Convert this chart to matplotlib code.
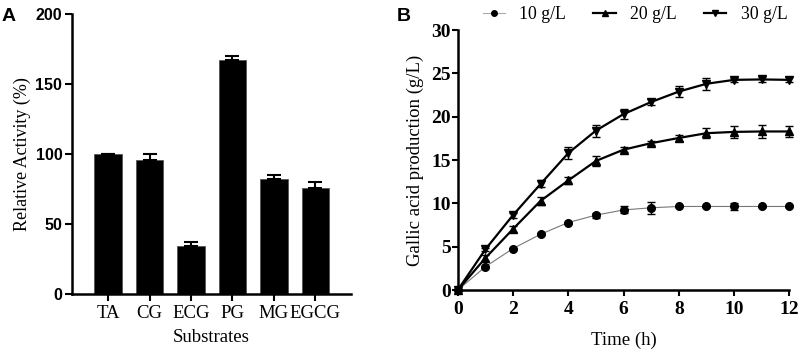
import numpy as np
import matplotlib
matplotlib.use('Agg')
import matplotlib.pyplot as plt
from matplotlib.lines import Line2D

# Panel A data
substrates = ['TA', 'CG', 'ECG', 'PG', 'MG', 'EGCG']
activity = [100, 96, 34, 167, 82, 76]
activity_err = [0, 4, 3, 3, 3, 4]

# Panel B data
time_h = [0, 1, 2, 3, 4, 5, 6, 7, 8, 9, 10, 11, 12]
ga_10 = [0, 2.7, 4.8, 6.45, 7.8, 8.65, 9.25, 9.5, 9.65, 9.65, 9.65, 9.65, 9.65]
ga_10_err = [0, 0.1, 0.1, 0.1, 0.1, 0.3, 0.4, 0.7, 0.1, 0.1, 0.4, 0.1, 0.1]
ga_20 = [0, 3.7, 7.05, 10.3, 12.65, 14.9, 16.2, 16.95, 17.55, 18.1, 18.25, 18.3, 18.3]
ga_20_err = [0, 0.3, 0.4, 0.5, 0.4, 0.6, 0.3, 0.2, 0.4, 0.6, 0.7, 0.8, 0.6]
ga_30 = [0, 4.7, 8.65, 12.25, 15.8, 18.4, 20.3, 21.7, 22.9, 23.8, 24.25, 24.3, 24.25]
ga_30_err = [0, 0.2, 0.3, 0.4, 0.7, 0.7, 0.6, 0.4, 0.6, 0.7, 0.2, 0.3, 0.3]

serif = 'Liberation Serif'
sans = 'Liberation Sans'

fig = plt.figure(figsize=(8.03, 3.53), dpi=100)

# ---- Panel A ----
axA = fig.add_axes([0.0897, 0.167, 0.347, 0.793])
x = np.arange(len(substrates))
axA.bar(x, activity, width=0.66, color='black', edgecolor='#555555', linewidth=0.6,
        yerr=[np.zeros(len(activity_err)), activity_err],
        error_kw=dict(ecolor='black', elinewidth=1.5, capsize=5, capthick=1.5))
axA.set_xlim(-0.87, 5.85)
axA.set_ylim(0, 200)
axA.set_yticks([0, 50, 100, 150, 200])
axA.set_xticks(x)
axA.set_xticklabels(substrates, fontfamily=serif, fontsize=13.5)
for lab in axA.get_yticklabels():
    lab.set_fontfamily(sans)
    lab.set_fontweight('bold')
    lab.set_fontsize(11.5)
axA.spines['top'].set_visible(False)
axA.spines['right'].set_visible(False)
for s in ['left', 'bottom']:
    axA.spines[s].set_linewidth(1.8)
axA.tick_params(axis='both', width=1.5, length=5, direction='out')
axA.tick_params(axis='x', pad=3)
axA.tick_params(axis='y', pad=2)
axA.set_ylabel('Relative Activity (%)', fontfamily=serif, fontsize=13, labelpad=3)
axA.set_xlabel('Substrates', fontfamily=serif, fontsize=13.5, labelpad=5)
fig.text(0.002, 0.94, 'A', fontfamily=sans, fontweight='bold', fontsize=14)

# ---- Panel B ----
axB = fig.add_axes([0.570, 0.178, 0.413, 0.737])
axB.errorbar(time_h, ga_10, yerr=ga_10_err, color='#777777', lw=0.8, marker='o',
             ms=5.5, mfc='black', mec='black', ecolor='black', elinewidth=1,
             capsize=3, capthick=1, clip_on=False)
axB.errorbar(time_h, ga_20, yerr=ga_20_err, color='black', lw=1.6, marker='^',
             ms=5.5, ecolor='black', elinewidth=1, capsize=3, capthick=1, clip_on=False)
axB.errorbar(time_h, ga_30, yerr=ga_30_err, color='black', lw=1.6, marker='v',
             ms=5.5, ecolor='black', elinewidth=1, capsize=3, capthick=1, clip_on=False)
axB.set_xlim(0, 12)
axB.set_ylim(0, 30)
axB.set_xticks([0, 2, 4, 6, 8, 10, 12])
axB.set_yticks([0, 5, 10, 15, 20, 25, 30])
for lab in axB.get_xticklabels() + axB.get_yticklabels():
    lab.set_fontfamily(serif)
    lab.set_fontweight('bold')
    lab.set_fontsize(14)
axB.spines['top'].set_visible(False)
axB.spines['right'].set_visible(False)
for s in ['left', 'bottom']:
    axB.spines[s].set_linewidth(1.8)
axB.tick_params(axis='both', width=1.5, length=4, direction='out')
axB.tick_params(axis='y', pad=1)
axB.set_ylabel('Gallic acid production (g/L)', fontfamily=serif, fontsize=13.5, labelpad=5)
axB.set_xlabel('Time (h)', fontfamily=serif, fontsize=13.5, labelpad=10)

handles = [
    Line2D([], [], color='#aaaaaa', lw=0.8, marker='o', ms=4, mfc='black', mec='black'),
    Line2D([], [], color='black', lw=1.6, marker='^', ms=4),
    Line2D([], [], color='black', lw=1.6, marker='v', ms=4),
]
fig.legend(handles, ['10 g/L', '20 g/L', '30 g/L'], loc='center left',
           bbox_to_anchor=(0.601, 0.958), ncol=3, frameon=False,
           prop={'family': serif, 'size': 12.8}, handlelength=1.25, columnspacing=1.55,
           handletextpad=0.8, borderaxespad=0, borderpad=0)
fig.text(0.494, 0.94, 'B', fontfamily=sans, fontweight='bold', fontsize=14)

fig.savefig('out.png', dpi=100)
